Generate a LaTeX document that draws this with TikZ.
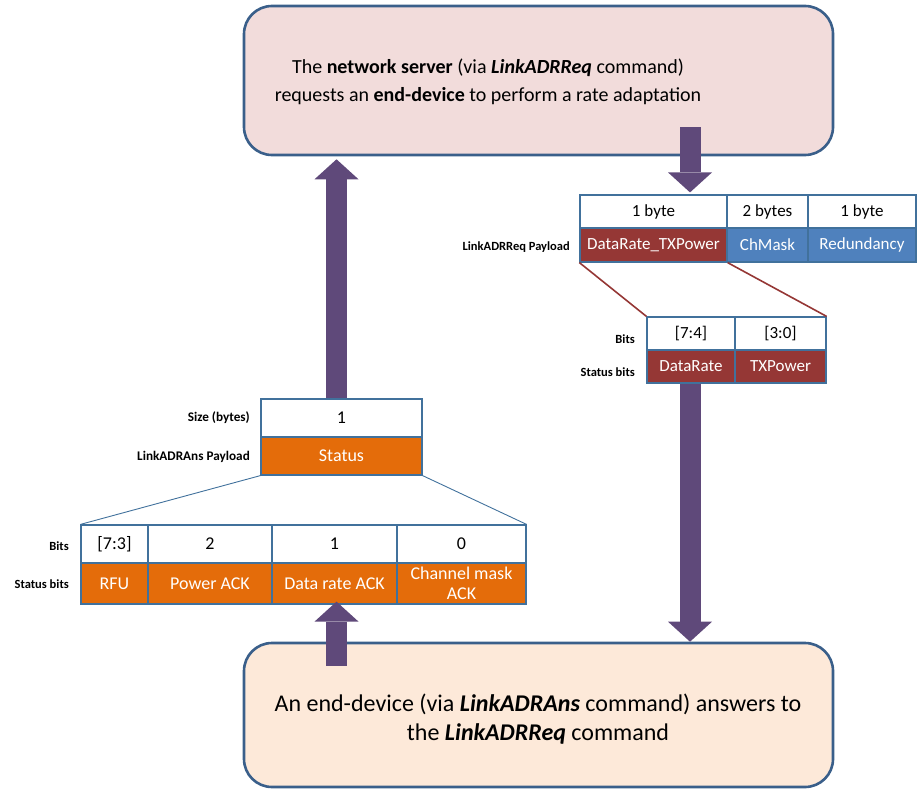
\documentclass[tikz,border=0pt]{standalone}
\usepackage{fontspec}
\setmainfont{Carlito}
\usetikzlibrary{arrows.meta,calc}

\definecolor{boxline}{HTML}{3A5F8A}
\definecolor{reqfill}{HTML}{F2DCDB}
\definecolor{ansfill}{HTML}{FDE9D9}
\definecolor{arrowc}{HTML}{5F497A}
\definecolor{cellline}{HTML}{41719C}
\definecolor{orangec}{HTML}{E46C0A}
\definecolor{redc}{HTML}{953735}
\definecolor{bluec}{HTML}{4F81BD}

% one table cell given by its corners: name, x1, y1, x2, y2, style, text
\newcommand\mkcell[7]{%
  \node[cell,#6,minimum width={#4-#2},minimum height={#5-#3}] (#1)
    at ({(#2+#4)/2},{(#3+#5)/2}) {#7};}

\tikzset{
  bigbox/.style={draw=boxline, line width=2.6pt, rounded corners=28pt, inner sep=0pt},
  bigtext/.style={align=center, inner sep=0pt},
  cell/.style={draw=cellline, line width=1.2pt, inner sep=0pt, align=center,
    font=\fontsize{17}{19.5}\selectfont},
  bigcell/.style={font=\fontsize{18}{20}\selectfont},
  plaincell/.style={fill=white, text=black},
  orangecell/.style={fill=orangec, text=white, bigcell},
  redcell/.style={fill=redc, text=white},
  bluecell/.style={fill=bluec, text=white},
  rowlabel/.style={anchor=east, inner sep=0pt, font=\fontsize{12.5}{14}\selectfont\bfseries},
  blockarrow/.style={draw=arrowc, line width=21pt,
    -{Triangle[width=44pt,length=20pt,line width=0pt]}},
  zoomred/.style={draw=redc, line width=1.6pt},
  zoomblue/.style={draw=cellline, line width=0.9pt},
}

\begin{document}
\begin{tikzpicture}[x=1pt,y=-1pt]
\useasboundingbox (0,0) rectangle (917,789);

% the two command boxes
\node[bigbox, fill=reqfill, minimum width=589, minimum height=149] (topbox) at (538.5,80.5) {};
\node[bigtext, font=\fontsize{20}{28.5}\selectfont] (toptext) at (488,82)
  {The \textbf{network server} (via \textbf{\textit{LinkADRReq}} command)\\
   requests an \textbf{end-device} to perform a rate adaptation};

\node[bigbox, fill=ansfill, minimum width=589, minimum height=144] (botbox) at (538.5,715) {};
\node[bigtext, font=\fontsize{24}{28.5}\selectfont] (bottext) at (538,719)
  {An end-device (via \textbf{\textit{LinkADRAns}} command) answers to\\
   the \textbf{\textit{LinkADRReq}} command};

% LinkADRReq payload
\mkcell{szA}{580}{195}{727}{228}{plaincell}{1 byte}
\mkcell{szB}{727}{195}{808}{228}{plaincell}{2 bytes}
\mkcell{szC}{808}{195}{916}{228}{plaincell}{1 byte}
\mkcell{dtx}{580}{228}{727}{262}{redcell}{DataRate\_TXPower}
\mkcell{chm}{727}{228}{808}{262}{bluecell}{ChMask}
\mkcell{red}{808}{228}{916}{262}{bluecell}{Redundancy}
\node[rowlabel] (reqlab) at (570,247) {LinkADRReq Payload};

% DataRate_TXPower bits
\mkcell{bA}{647}{317}{735}{350}{plaincell}{[7:4]}
\mkcell{bB}{735}{317}{826}{350}{plaincell}{[3:0]}
\mkcell{dr}{647}{350}{735}{383}{redcell}{DataRate}
\mkcell{txp}{735}{350}{826}{383}{redcell}{TXPower}
\node[rowlabel] (bitsR) at (635,339) {Bits};
\node[rowlabel] (stR) at (635,372) {Status bits};
\draw[zoomred] (dtx.south west) -- (bA.north west);
\draw[zoomred] (dtx.south east) -- (bB.north east);

% LinkADRAns payload
\mkcell{size}{261}{399}{422}{437}{plaincell,bigcell}{1}
\mkcell{status}{261}{437}{422}{475}{orangecell}{Status}
\node[rowlabel, font=\fontsize{13.2}{15}\selectfont\bfseries] (sizelab) at (250,418) {Size (bytes)};
\node[rowlabel, font=\fontsize{13.2}{15}\selectfont\bfseries] (anslab) at (250,457) {LinkADRAns Payload};

% Status bits
\mkcell{b73}{81}{525}{148}{563}{plaincell,bigcell}{[7:3]}
\mkcell{b2}{148}{525}{272}{563}{plaincell,bigcell}{2}
\mkcell{b1}{272}{525}{397}{563}{plaincell,bigcell}{1}
\mkcell{b0}{397}{525}{526}{563}{plaincell,bigcell}{0}
\mkcell{rfu}{81}{563}{148}{604}{orangecell}{RFU}
\mkcell{pwa}{148}{563}{272}{604}{orangecell}{Power ACK}
\mkcell{dra}{272}{563}{397}{604}{orangecell}{Data rate ACK}
\mkcell{cma}{397}{563}{526}{604}{orangecell}{Channel mask\\ACK}
\node[rowlabel] (bitsL) at (69,546) {Bits};
\node[rowlabel] (stL) at (69,584) {Status bits};
\draw[zoomblue] (status.south west) -- (b73.north west);
\draw[zoomblue] (status.south east) -- (b0.north east);

% flow arrows
\coordinate (a1s) at ($(size.north)+(-5,0)$);
\coordinate (a1e) at ($(a1s |- topbox.south)+(0,3)$);
\draw[blockarrow] (a1s) -- (a1e);

\coordinate (a2s) at ($(topbox.south)+(151.5,-29)$);
\coordinate (a2e) at ($(a2s |- szA.north)+(0,-2)$);
\draw[blockarrow] (a2s) -- (a2e);

\coordinate (a3s) at ($(dr.south)+(-1,0)$);
\coordinate (a3e) at (a3s |- botbox.north);
\draw[blockarrow] (a3s) -- (a3e);

\coordinate (a4s) at ($(botbox.north)+(-202,24)$);
\coordinate (a4e) at ($(a4s |- dra.south)+(0,-3)$);
\draw[blockarrow] (a4s) -- (a4e);
\end{tikzpicture}
\end{document}
